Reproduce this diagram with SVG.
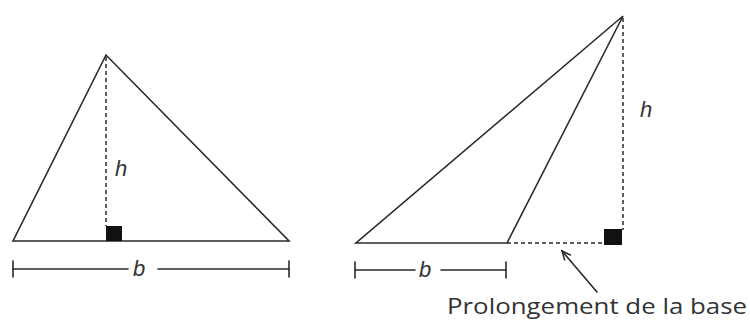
<svg xmlns="http://www.w3.org/2000/svg" width="750" height="324" viewBox="0 0 750 324">
<defs>
<style>
.ln{stroke:#2a2a2a;stroke-width:1.6;fill:none;stroke-linecap:round}
.ds{stroke:#2a2a2a;stroke-width:1.5;fill:none;stroke-dasharray:4 3}
.sq{fill:#111}
.lbl{font-family:"Liberation Sans","DejaVu Sans",sans-serif;font-style:italic;font-size:22px;fill:#333}
.cap{font-family:"Open Sans","Liberation Sans",sans-serif;font-size:21px;fill:#333}
</style>
<marker id="ah" markerWidth="12" markerHeight="10" refX="10" refY="5" orient="auto" markerUnits="userSpaceOnUse">
<path d="M1,1 L10,5 L1,9" fill="none" stroke="#2a2a2a" stroke-width="1.5"/>
</marker>
</defs>
<rect width="750" height="324" fill="#fff"/>
<g id="triangle1">
<polygon class="ln" points="106,55 13,241 289,241"/>
<line class="ds" x1="106" y1="57" x2="106" y2="226"/>
<rect class="sq" x="106" y="226" width="16" height="15"/>
<text class="lbl" x="115" y="176">h</text>
</g>
<g id="base1">
<line class="ln" x1="13" y1="269" x2="128" y2="269"/>
<line class="ln" x1="158" y1="269" x2="289" y2="269"/>
<line class="ln" x1="13" y1="261" x2="13" y2="277"/>
<line class="ln" x1="289" y1="261" x2="289" y2="277"/>
<text class="lbl" x="133" y="276">b</text>
</g>
<g id="triangle2">
<polygon class="ln" points="623,16 356,243 507,243"/>
<line class="ds" x1="623" y1="18" x2="623" y2="230"/>
<line class="ds" x1="507" y1="243" x2="604" y2="243"/>
<rect class="sq" x="604" y="229" width="18" height="16"/>
<text class="lbl" x="640" y="117">h</text>
</g>
<g id="base2">
<line class="ln" x1="355" y1="270" x2="415" y2="270"/>
<line class="ln" x1="441" y1="270" x2="506" y2="270"/>
<line class="ln" x1="355" y1="262" x2="355" y2="278"/>
<line class="ln" x1="506" y1="262" x2="506" y2="278"/>
<text class="lbl" x="419" y="277">b</text>
</g>
<g id="connectors">
<line class="ln" x1="597" y1="292" x2="562" y2="251" marker-end="url(#ah)"/>
</g>
<g id="caption">
<text class="cap" x="447" y="314" textLength="300" lengthAdjust="spacingAndGlyphs">Prolongement de la base</text>
</g>
</svg>
